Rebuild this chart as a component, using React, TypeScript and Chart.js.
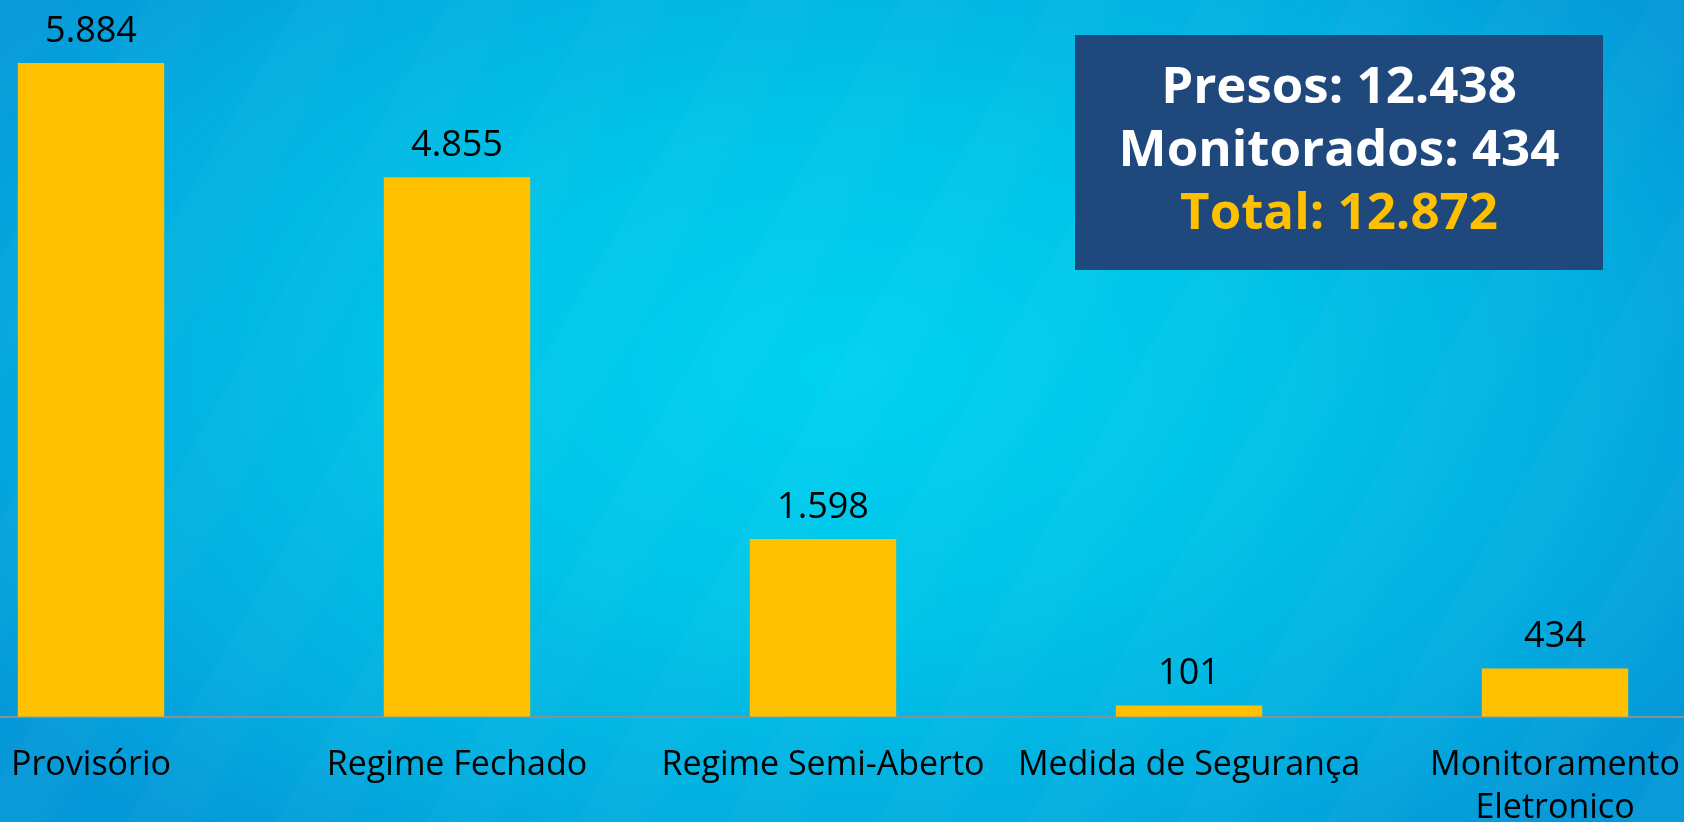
import React, { useEffect, useRef } from "react";
import { Chart, registerables } from "chart.js";

Chart.register(...registerables);

const categories: (string | string[])[] = [
  "Provisório",
  "Regime Fechado",
  "Regime Semi-Aberto",
  "Medida de Segurança",
  ["Monitoramento", "Eletronico"],
];
const values: number[] = [5884, 4855, 1598, 101, 434];
const summaryLines: string[] = ["Presos: 12.438", "Monitorados: 434", "Total: 12.872"];

const Y_MAX = 6450;
const FONT = "'Open Sans', 'Noto Sans', sans-serif";

function fmt(n: number): string {
  return String(n).replace(/\B(?=(\d{3})+(?!\d))/g, ".");
}

const valueLabels = {
  id: "valueLabels",
  afterDatasetsDraw(chart: any) {
    const ctx = chart.ctx;
    const meta = chart.getDatasetMeta(0);
    ctx.save();
    ctx.font = `36px ${FONT}`;
    ctx.fillStyle = "#000000";
    ctx.textAlign = "center";
    ctx.textBaseline = "alphabetic";
    meta.data.forEach((bar: any, i: number) => {
      ctx.fillText(fmt(values[i]), bar.x, bar.y - 21);
    });
    ctx.restore();
  },
};

export default function App() {
  const ref = useRef<HTMLCanvasElement | null>(null);

  useEffect(() => {
    if (!ref.current) return;
    const chart = new Chart(ref.current, {
      type: "bar",
      data: {
        labels: categories,
        datasets: [
          {
            data: values,
            backgroundColor: "#FFC000",
            borderWidth: 0,
            barPercentage: 0.4,
            categoryPercentage: 1,
          },
        ],
      },
      options: {
        animation: false,
        responsive: false,
        maintainAspectRatio: false,
        layout: { padding: { top: 0, bottom: 0, left: 0, right: 0 } },
        plugins: {
          legend: { display: false },
          tooltip: { enabled: false },
        },
        scales: {
          x: {
            grid: { display: false, drawTicks: false },
            border: { display: true, color: "#8a8f96", width: 2 },
            ticks: {
              color: "#000000",
              font: { family: FONT, size: 34, lineHeight: 1.27 },
              padding: 27,
              maxRotation: 0,
              autoSkip: false,
            },
          },
          y: {
            display: false,
            min: 0,
            max: Y_MAX,
          },
        },
      },
      plugins: [valueLabels],
    });
    return () => chart.destroy();
  }, []);

  return (
    <div
      style={{
        position: "fixed",
        left: 0,
        top: 0,
        width: 1684,
        height: 822,
        overflow: "hidden",
        background:
          "radial-gradient(ellipse 60% 75% at 50% 45%, #00d2f0 0%, #00c4e8 40%, #03aee0 75%, #0598d8 100%)",
      }}
    >
      <div
        style={{
          position: "absolute",
          inset: 0,
          background:
            "repeating-linear-gradient(120deg, rgba(255,255,255,0.018) 0px, rgba(255,255,255,0.018) 50px, rgba(0,0,0,0) 70px, rgba(0,0,0,0) 130px)",
        }}
      />
      <canvas
        ref={ref}
        width={1830}
        height={857}
        style={{ position: "absolute", left: -92, top: 0, width: 1830, height: 857 }}
      />
      <div
        style={{
          position: "absolute",
          left: 1075,
          top: 35,
          width: 528,
          height: 235,
          boxSizing: "border-box",
          paddingBottom: 12,
          background: "#1F497D",
          display: "flex",
          flexDirection: "column",
          justifyContent: "center",
          alignItems: "center",
          fontFamily: FONT,
          fontWeight: 700,
          fontSize: 51,
          lineHeight: "63px",
        }}
      >
        <div style={{ color: "#ffffff" }}>{summaryLines[0]}</div>
        <div style={{ color: "#ffffff" }}>{summaryLines[1]}</div>
        <div style={{ color: "#FFC000" }}>{summaryLines[2]}</div>
      </div>
    </div>
  );
}
